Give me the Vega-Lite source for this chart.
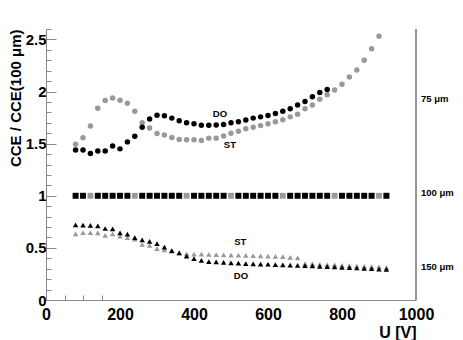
{
  "$schema": "https://vega.github.io/schema/vega-lite/v6.json",
  "width": 370,
  "height": 271,
  "autosize": {"type": "none"},
  "padding": {"left": 46, "top": 29, "right": 47, "bottom": 40},
  "background": "white",
  "config": {
    "view": {"stroke": null},
    "font": "Liberation Sans",
    "axis": {"grid": false, "domainColor": "#888888", "labelColor": "black", "titleColor": "black", "labelFont": "Liberation Sans", "titleFont": "Liberation Sans", "labelFontWeight": "bold", "titleFontWeight": "bold", "labelOverlap": false}
  },
  "datasets": {
    "st75": [
      {"U":80,"v":1.495},{"U":100,"v":1.556},{"U":120,"v":1.67},{"U":140,"v":1.84},{"U":160,"v":1.915},{"U":180,"v":1.937},{"U":200,"v":1.917},{"U":220,"v":1.888},{"U":240,"v":1.81},{"U":260,"v":1.70},{"U":280,"v":1.65},{"U":300,"v":1.598},{"U":320,"v":1.583},{"U":340,"v":1.56},{"U":360,"v":1.54},{"U":380,"v":1.537},{"U":400,"v":1.537},{"U":420,"v":1.53},{"U":440,"v":1.553},{"U":460,"v":1.553},{"U":480,"v":1.573},{"U":500,"v":1.60},{"U":520,"v":1.62},{"U":540,"v":1.644},{"U":560,"v":1.657},{"U":580,"v":1.673},{"U":600,"v":1.69},{"U":620,"v":1.71},{"U":640,"v":1.73},{"U":660,"v":1.757},{"U":680,"v":1.783},{"U":700,"v":1.835},{"U":720,"v":1.87},{"U":740,"v":1.925},{"U":760,"v":1.97},{"U":780,"v":2.015},{"U":800,"v":2.07},{"U":820,"v":2.14},{"U":840,"v":2.207},{"U":860,"v":2.30},{"U":880,"v":2.41},{"U":900,"v":2.53}
    ],
    "do75": [
      {"U":80,"v":1.44},{"U":100,"v":1.44},{"U":120,"v":1.405},{"U":140,"v":1.43},{"U":160,"v":1.43},{"U":180,"v":1.477},{"U":200,"v":1.45},{"U":220,"v":1.517},{"U":240,"v":1.572},{"U":260,"v":1.657},{"U":280,"v":1.737},{"U":300,"v":1.773},{"U":320,"v":1.767},{"U":340,"v":1.745},{"U":360,"v":1.72},{"U":380,"v":1.70},{"U":400,"v":1.69},{"U":420,"v":1.676},{"U":440,"v":1.676},{"U":460,"v":1.68},{"U":480,"v":1.683},{"U":500,"v":1.70},{"U":520,"v":1.71},{"U":540,"v":1.728},{"U":560,"v":1.745},{"U":580,"v":1.757},{"U":600,"v":1.77},{"U":620,"v":1.79},{"U":640,"v":1.81},{"U":660,"v":1.835},{"U":680,"v":1.87},{"U":700,"v":1.905},{"U":720,"v":1.95},{"U":740,"v":1.99},{"U":760,"v":2.02}
    ],
    "st100": [
      {"U":80,"v":1},{"U":100,"v":1},{"U":120,"v":1},{"U":140,"v":1},{"U":160,"v":1},{"U":180,"v":1},{"U":200,"v":1},{"U":220,"v":1},{"U":240,"v":1},{"U":260,"v":1},{"U":280,"v":1},{"U":300,"v":1},{"U":320,"v":1},{"U":340,"v":1},{"U":360,"v":1},{"U":380,"v":1},{"U":400,"v":1},{"U":420,"v":1},{"U":440,"v":1},{"U":460,"v":1},{"U":480,"v":1},{"U":500,"v":1},{"U":520,"v":1},{"U":540,"v":1},{"U":560,"v":1},{"U":580,"v":1},{"U":600,"v":1},{"U":620,"v":1},{"U":640,"v":1},{"U":660,"v":1},{"U":680,"v":1},{"U":700,"v":1},{"U":720,"v":1},{"U":740,"v":1},{"U":760,"v":1},{"U":780,"v":1},{"U":800,"v":1},{"U":820,"v":1},{"U":840,"v":1},{"U":860,"v":1},{"U":880,"v":1},{"U":900,"v":1},{"U":920,"v":1}
    ],
    "do100": [
      {"U":80,"v":1},{"U":100,"v":1},{"U":140,"v":1},{"U":160,"v":1},{"U":180,"v":1},{"U":200,"v":1},{"U":220,"v":1},{"U":260,"v":1},{"U":280,"v":1},{"U":300,"v":1},{"U":320,"v":1},{"U":340,"v":1},{"U":360,"v":1},{"U":400,"v":1},{"U":420,"v":1},{"U":440,"v":1},{"U":460,"v":1},{"U":480,"v":1},{"U":520,"v":1},{"U":540,"v":1},{"U":560,"v":1},{"U":580,"v":1},{"U":600,"v":1},{"U":620,"v":1},{"U":660,"v":1},{"U":680,"v":1},{"U":700,"v":1},{"U":720,"v":1},{"U":740,"v":1},{"U":760,"v":1},{"U":800,"v":1},{"U":820,"v":1},{"U":840,"v":1},{"U":860,"v":1},{"U":880,"v":1},{"U":920,"v":1}
    ],
    "st150": [
      {"U":80,"v":0.634},{"U":100,"v":0.647},{"U":120,"v":0.647},{"U":140,"v":0.644},{"U":160,"v":0.621},{"U":180,"v":0.634},{"U":200,"v":0.612},{"U":220,"v":0.599},{"U":240,"v":0.583},{"U":260,"v":0.534},{"U":280,"v":0.524},{"U":300,"v":0.492},{"U":320,"v":0.482},{"U":340,"v":0.469},{"U":360,"v":0.453},{"U":380,"v":0.443},{"U":400,"v":0.44},{"U":420,"v":0.44},{"U":440,"v":0.437},{"U":460,"v":0.435},{"U":480,"v":0.433},{"U":500,"v":0.43},{"U":520,"v":0.43},{"U":540,"v":0.428},{"U":560,"v":0.425},{"U":580,"v":0.423},{"U":600,"v":0.42},{"U":620,"v":0.418},{"U":640,"v":0.415},{"U":660,"v":0.41},{"U":680,"v":0.405},{"U":700,"v":0.35},{"U":720,"v":0.347},{"U":740,"v":0.343},{"U":760,"v":0.34},{"U":780,"v":0.337},{"U":800,"v":0.333},{"U":820,"v":0.33},{"U":840,"v":0.327},{"U":860,"v":0.323},{"U":880,"v":0.32},{"U":900,"v":0.317},{"U":920,"v":0.313}
    ],
    "do150": [
      {"U":80,"v":0.72},{"U":100,"v":0.718},{"U":120,"v":0.715},{"U":140,"v":0.712},{"U":160,"v":0.686},{"U":180,"v":0.683},{"U":200,"v":0.644},{"U":220,"v":0.631},{"U":240,"v":0.599},{"U":260,"v":0.576},{"U":280,"v":0.563},{"U":300,"v":0.54},{"U":320,"v":0.508},{"U":340,"v":0.473},{"U":360,"v":0.453},{"U":380,"v":0.42},{"U":400,"v":0.398},{"U":420,"v":0.379},{"U":440,"v":0.369},{"U":460,"v":0.366},{"U":480,"v":0.36},{"U":500,"v":0.356},{"U":520,"v":0.353},{"U":540,"v":0.35},{"U":560,"v":0.347},{"U":580,"v":0.345},{"U":600,"v":0.343},{"U":620,"v":0.34},{"U":640,"v":0.338},{"U":660,"v":0.335},{"U":680,"v":0.333},{"U":700,"v":0.33},{"U":720,"v":0.327},{"U":740,"v":0.323},{"U":760,"v":0.32},{"U":780,"v":0.317},{"U":800,"v":0.313},{"U":820,"v":0.31},{"U":840,"v":0.307},{"U":860,"v":0.303},{"U":880,"v":0.3},{"U":900,"v":0.297},{"U":920,"v":0.293}
    ],
    "notes": [
      {"U":470,"v":1.78,"t":"DO"},{"U":497,"v":1.485,"t":"ST"},{"U":525,"v":0.553,"t":"ST"},{"U":527,"v":0.233,"t":"DO"}
    ],
    "side": [
      {"U":1000,"v":1.93,"t":"75 μm"},{"U":1000,"v":1.03,"t":"100 μm"},{"U":1000,"v":0.32,"t":"150 μm"}
    ]
  },
  "encoding": {
    "x": {"field": "U", "type": "quantitative", "scale": {"domain": [0, 1000], "nice": false, "zero": false},
      "axis": {"values": [0, 50, 100, 150, 200, 400, 600, 800, 1000], "format": "d",
        "labelExpr": "datum.value % 200 == 0 ? datum.label : ''",
        "labelOverlap": false,
        "tickSize": -5, "labelPadding": 11, "labelFontSize": 16, "labelFlush": false,
        "tickColor": {"condition": {"test": "datum.value > 0 && datum.value < 200", "value": "#888888"}, "value": "transparent"},
        "title": "U [V]", "titleAnchor": "end", "titleFontSize": 16, "titlePadding": 2}},
    "y": {"field": "v", "type": "quantitative", "scale": {"domain": [0, 2.6], "nice": false, "zero": false},
      "axis": {"values": [0,0.1,0.2,0.3,0.4,0.5,0.6,0.7,0.8,0.9,1,1.1,1.2,1.3,1.4,1.5,1.6,1.7,1.8,1.9,2,2.1,2.2,2.3,2.4,2.5,2.6],
        "format": "~g",
        "labelOverlap": false,
        "labelExpr": "(datum.value == 0 || datum.value == 0.5 || datum.value == 1 || datum.value == 1.5 || datum.value == 2 || datum.value == 2.5) ? datum.label : ''",
        "tickColor": "#888888",
        "tickSize": {"condition": {"test": "datum.value == 0 || datum.value == 0.5 || datum.value == 1 || datum.value == 1.5 || datum.value == 2 || datum.value == 2.5", "value": -10}, "value": -5},
        "labelPadding": 10, "labelFontSize": 15,
        "title": "CCE / CCE(100 μm)", "titleAnchor": "end", "titleFontSize": 15, "titlePadding": 2}}
  },
  "layer": [
    {
      "data": {"name": "st75"},
      "mark": {"type": "point", "shape": "circle", "filled": true, "size": 30, "color": "#999999", "opacity": 1}
    },
    {
      "data": {"name": "do75"},
      "mark": {"type": "point", "shape": "circle", "filled": true, "size": 30, "color": "#000000", "opacity": 1}
    },
    {
      "data": {"name": "st100"},
      "mark": {"type": "point", "shape": "square", "filled": true, "size": 34, "color": "#999999", "opacity": 1}
    },
    {
      "data": {"name": "do100"},
      "mark": {"type": "point", "shape": "square", "filled": true, "size": 34, "color": "#000000", "opacity": 1}
    },
    {
      "data": {"name": "st150"},
      "mark": {"type": "point", "shape": "triangle-up", "filled": true, "size": 30, "color": "#999999", "opacity": 1}
    },
    {
      "data": {"name": "do150"},
      "mark": {"type": "point", "shape": "triangle-up", "filled": true, "size": 30, "color": "#000000", "opacity": 1}
    },
    {
      "data": {"name": "notes"},
      "mark": {"type": "text", "fontSize": 9.5, "fontWeight": "bold", "color": "black", "align": "center", "baseline": "middle"},
      "encoding": {"text": {"field": "t"}}
    },
    {
      "data": {"name": "side"},
      "mark": {"type": "text", "fontSize": 9.5, "fontWeight": "bold", "color": "black", "align": "left", "baseline": "middle", "dx": 5, "clip": false},
      "encoding": {"text": {"field": "t"}}
    },
    {
      "data": {"name": "side"},
      "mark": {"type": "rule", "color": "#888888"},
      "encoding": {"x": {"datum": 1000}, "y": {"datum": 0}, "y2": {"datum": 2.6}}
    }
  ]
}
